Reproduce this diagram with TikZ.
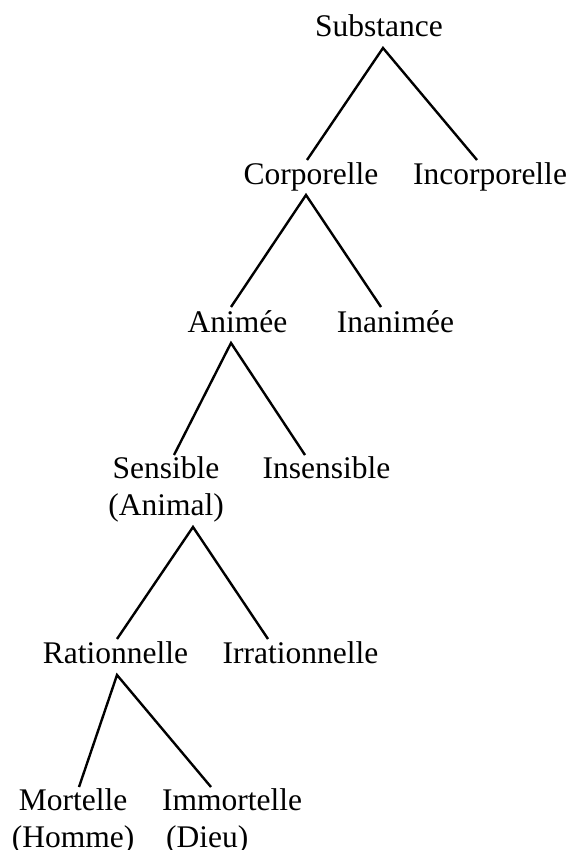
\documentclass[tikz,border=0pt]{standalone}
\usepackage{fontspec}
\setmainfont{Liberation Serif}
\begin{document}
\begin{tikzpicture}[x=1pt,y=1pt,
  lbl/.style={inner sep=0pt, anchor=base, font=\fontsize{31.5}{37.5}\selectfont},
  edge/.style={line width=2.4pt}]
\useasboundingbox (0,0) rectangle (571,-850);
\node[lbl] (sub) at (379,-37) {Substance};
\node[lbl] (cor) at (311,-185) {Corporelle};
\node[lbl] (inc) at (490,-185) {Incorporelle};
\node[lbl] (ani) at (237.5,-332) {Animée};
\node[lbl] (ina) at (395.5,-332) {Inanimée};
\node[lbl] (sen) at (166,-478) {\begin{tabular}[t]{@{}c@{}}Sensible\\(Animal)\end{tabular}};
\node[lbl] (ins) at (326.5,-478) {Insensible};
\node[lbl] (rat) at (115.5,-663) {Rationnelle};
\node[lbl] (irr) at (300.5,-663) {Irrationnelle};
\node[lbl] (mor) at (73,-810) {\begin{tabular}[t]{@{}c@{}}Mortelle\\(Homme)\end{tabular}};
\node[lbl] (imm) at (232,-810) {\begin{tabular}[t]{@{}l@{}}Immortelle\\\hspace{4pt}(Dieu)\end{tabular}};
\draw[edge] ([shift={(-4,25)}]cor.base) -- ([shift={(4,-11)}]sub.base) -- ([shift={(-13,25)}]inc.base);
\draw[edge] ([shift={(-6.5,25)}]ani.base) -- ([shift={(-5,-10)}]cor.base) -- ([shift={(-14.5,25)}]ina.base);
\draw[edge] ([shift={(8,23)}]sen.base) -- ([shift={(-6.5,-11)}]ani.base) -- ([shift={(-21.5,23)}]ins.base);
\draw[edge] ([shift={(1.5,24)}]rat.base) -- ([shift={(27,-49)}]sen.base) -- ([shift={(-32.5,24)}]irr.base);
\draw[edge] ([shift={(6,23)}]mor.base) -- ([shift={(1.5,-12)}]rat.base) -- ([shift={(-21,23)}]imm.base);
\end{tikzpicture}
\end{document}
